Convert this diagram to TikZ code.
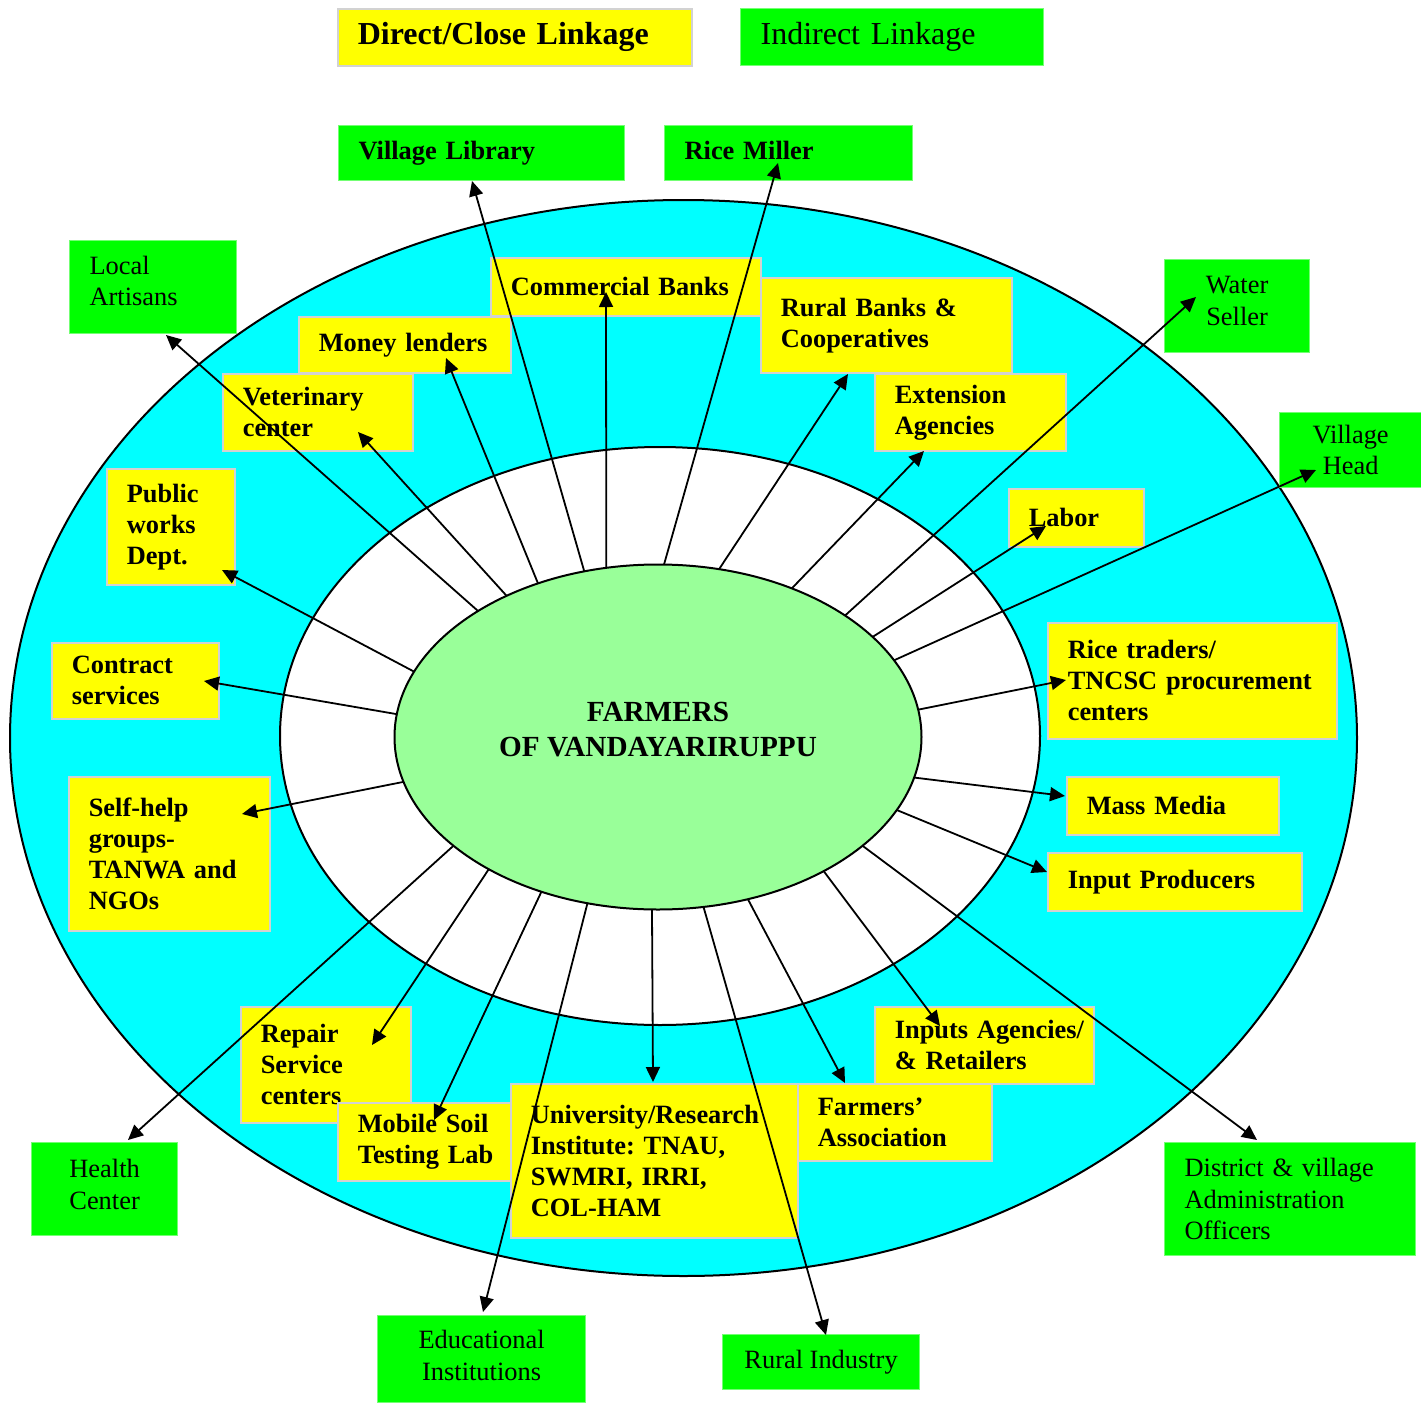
\documentclass[tikz,border=0pt]{standalone}
\usepackage{fontspec}
\setmainfont{Liberation Serif}
\usepackage{tikz}
\usetikzlibrary{arrows.meta,shapes.geometric}
\frenchspacing

\definecolor{linkyellow}{HTML}{FFFF00}
\definecolor{linkgreen}{HTML}{00FF00}
\definecolor{ringcyan}{HTML}{00FFFF}
\definecolor{farmgreen}{HTML}{99FF99}

\begin{document}
\begin{tikzpicture}[
  x=0.5pt, y=-0.5pt,
  direct/.style={draw=gray!35, line width=0.8pt, fill=linkyellow, anchor=north west, inner xsep=10pt, inner ysep=0pt, align=left, font=\fontsize{13.2}{15.5}\selectfont\bfseries},
  indirect/.style={draw=linkgreen!55!white, line width=0.6pt, fill=linkgreen, anchor=north west, inner xsep=10pt, inner ysep=0pt, align=left, font=\fontsize{13.2}{15.8}\selectfont},
  ring/.style={draw=black, line width=1pt},
  spoke/.style={draw=black, line width=0.9pt, -{Triangle[length=7.5pt,width=7pt]}}
]
  \useasboundingbox (0,0) rectangle (1421,1403);

  % legend
  \node[direct, font=\fontsize{16}{19}\selectfont\bfseries, minimum width=177pt, minimum height=28.5pt, text width=157pt] (directkey) at (337,8) {Direct/Close Linkage};
  \node[indirect, font=\fontsize{16}{19}\selectfont, minimum width=151.5pt, minimum height=28.5pt, text width=131.5pt] (indirectkey) at (740,8) {Indirect Linkage};

  % rings
  \draw[ring, fill=ringcyan] (683.5,738) ellipse [x radius=336.75pt, y radius=269pt];
  \draw[ring, fill=white] (660,736) ellipse [x radius=190pt, y radius=144.5pt];
  \node[ring, ellipse, fill=farmgreen, minimum width=263.5pt, minimum height=172.5pt, inner sep=0pt, outer sep=0pt, align=center, text depth=8pt, font=\fontsize{14.6}{17.5}\selectfont\bfseries] (farmers) at (658,737) {FARMERS\\OF VANDAYARIRUPPU};

  % direct / close linkages
  \node[direct, minimum width=135pt, minimum height=29pt, text width=115pt] (banks) at (490,257) {Commercial Banks};
  \node[direct, minimum width=106pt, minimum height=28pt, text width=86pt] (lenders) at (298,316) {\mbox{Money lenders}};
  \node[direct, minimum width=125.5pt, minimum height=47.5pt, text width=105.5pt] (rural) at (760,277) {Rural Banks \&\\Cooperatives};
  \node[direct, minimum width=95pt, minimum height=38.5pt, text width=75pt] (vet) at (222,373) {Veterinary\\center};
  \node[direct, minimum width=95.5pt, minimum height=38.5pt, text width=75.5pt] (extension) at (874,373) {Extension\\Agencies};
  \node[direct, minimum width=67.5pt, minimum height=29pt, text width=47.5pt] (labor) at (1008,488) {Labor};
  \node[direct, minimum width=64pt, minimum height=58pt, text width=44pt] (public) at (106,468) {Public\\works\\Dept.};
  \node[direct, minimum width=83.5pt, minimum height=38pt, text width=63.5pt] (contract) at (51,642) {Contract\\services};
  \node[direct, minimum width=144.5pt, minimum height=58pt, text width=124.5pt] (traders) at (1047,622) {Rice traders/\\\mbox{TNCSC procurement}\\centers};
  \node[direct, minimum width=100.5pt, minimum height=77pt, text width=80.5pt] (selfhelp) at (68,776) {Self-help\\groups-\\TANWA and\\NGOs};
  \node[direct, minimum width=106pt, minimum height=29pt, text width=86pt] (media) at (1066,776) {Mass Media};
  \node[direct, minimum width=127pt, minimum height=29pt, text width=107pt] (producers) at (1047,852) {Input Producers};
  \node[direct, minimum width=85pt, minimum height=58pt, text width=65pt] (repair) at (240,1006) {Repair\\Service\\centers};
  \node[direct, minimum width=109.5pt, minimum height=38.5pt, text width=89.5pt] (agencies) at (874,1006) {\mbox{Inputs Agencies/}\\\& Retailers};
  \node[direct, minimum width=86.5pt, minimum height=39pt, text width=66.5pt] (soil) at (337,1102) {\mbox{Mobile Soil}\\\mbox{Testing Lab}};
  \node[direct, minimum width=143.5pt, minimum height=77pt, text width=123.5pt] (university) at (510,1083) {\mbox{University/Research}\\Institute: TNAU,\\SWMRI, IRRI,\\COL-HAM};
  \node[direct, minimum width=97pt, minimum height=38.5pt, text width=77pt] (association) at (797,1083) {Farmers'\\Association};

  % indirect linkages
  \node[indirect, font=\fontsize{13.2}{15.8}\selectfont\bfseries, minimum width=143pt, minimum height=27.5pt, text width=123pt] (library) at (338,125) {Village Library};
  \node[indirect, font=\fontsize{13.2}{15.8}\selectfont\bfseries, minimum width=124pt, minimum height=27.5pt, text width=104pt, text depth=2.9pt] (miller) at (664,125) {Rice Miller};
  \node[indirect, minimum width=83.5pt, minimum height=46.5pt, text width=63.5pt, text depth=22pt] (artisans) at (69,240) {Local\\Artisans};
  \node[indirect, align=center, minimum width=72.5pt, minimum height=46.5pt, text depth=5pt] (water) at (1164,259) {Water\\Seller};
  \node[indirect, align=center, minimum width=71pt, minimum height=37.5pt] (head) at (1279,412) {Village\\Head};
  \node[indirect, align=center, minimum width=73pt, minimum height=46.5pt, text depth=5pt] (health) at (31,1142) {Health\\Center};
  \node[indirect, align=center, minimum width=104pt, minimum height=43.5pt, text depth=4pt] (educational) at (377,1315) {Educational\\Institutions};
  \node[indirect, align=center, minimum width=98.5pt, minimum height=27.5pt] (industry) at (722,1334) {Rural Industry};
  \node[indirect, minimum width=125.5pt, minimum height=56.5pt, text width=105.5pt] (district) at (1164,1142) {District \& village\\Administration\\Officers};

  % spokes from the farmers
  \foreach \a/\n/\x/\y in {145/artisans/166/335, 137/vet/358/432, 128/lenders/446/358,
      114/library/472/181, 107/banks/606/292, 88/miller/778/163, 70/rural/848/374,
      48/extension/924/451, 33/water/1196/297, 25/labor/1046/526, 18/head/1316/470,
      6/traders/1066/680, -9/media/1065/796, -17/producers/1047/872, -28/district/1257/1140,
      -39/agencies/940/1026, -61/association/845/1083, -75/industry/826/1335,
      -92/university/653/1082, -113/educational/483/1312, -127/soil/434/1120,
      -142/repair/372/1045, -152/health/128/1140, -170/selfhelp/242/814,
      175/contract/204/681, 165/public/222/570}
  {
    \coordinate (\n-tip) at (\x,\y);
    \draw[spoke] (farmers.\a) -- (\n-tip);
  }
\end{tikzpicture}
\end{document}
